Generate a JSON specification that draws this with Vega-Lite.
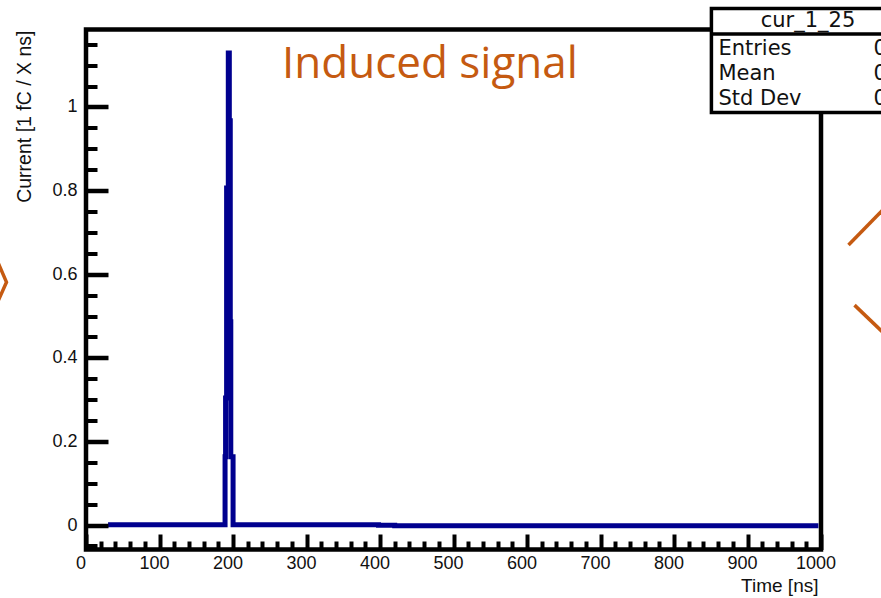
{
  "$schema": "https://vega.github.io/schema/vega-lite/v6.json",
  "width": 735,
  "height": 520,
  "autosize": {"type": "none"},
  "padding": {"left": 86, "top": 29.5, "right": 60, "bottom": 48.5},
  "background": "white",
  "config": {
    "view": {"stroke": "black", "strokeWidth": 4.5},
    "font": "Liberation Sans"
  },
  "datasets": {
    "curve": [
      {"i": 0, "t": 30, "c": 0.0005},
      {"i": 1, "t": 189.2, "c": 0.0005},
      {"i": 2, "t": 189.2, "c": 0.163},
      {"i": 3, "t": 189.9, "c": 0.163},
      {"i": 4, "t": 189.9, "c": 0.304},
      {"i": 5, "t": 191.3, "c": 0.304},
      {"i": 6, "t": 191.3, "c": 0.806},
      {"i": 7, "t": 193.6, "c": 0.806},
      {"i": 8, "t": 193.6, "c": 1.129},
      {"i": 9, "t": 195.0, "c": 1.129},
      {"i": 10, "t": 195.0, "c": 0.967},
      {"i": 11, "t": 196.3, "c": 0.967},
      {"i": 12, "t": 196.3, "c": 0.486},
      {"i": 13, "t": 197.0, "c": 0.486},
      {"i": 14, "t": 197.0, "c": 0.163},
      {"i": 15, "t": 200.1, "c": 0.163},
      {"i": 16, "t": 200.1, "c": 0.0005},
      {"i": 17, "t": 398, "c": 0.0005},
      {"i": 18, "t": 398, "c": -0.0005},
      {"i": 19, "t": 420, "c": -0.0005},
      {"i": 20, "t": 420, "c": -0.002},
      {"i": 21, "t": 996.5, "c": -0.002}
    ],
    "box": [{"x0": 850.9, "x1": 1094.6, "y0": 0.9868, "y1": 1.2356}],
    "divider": [{"x0": 850.9, "x1": 1094.6, "y": 1.1746}],
    "title": [{"x": 982.3, "y": 1.1914, "s": "cur_1_25"}],
    "stats": [
      {"x": 860.4, "y": 1.1244, "s": "Entries"},
      {"x": 860.4, "y": 1.0646, "s": "Mean"},
      {"x": 860.4, "y": 1.0048, "s": "Std Dev"},
      {"x": 1071.5, "y": 1.1244, "s": "0"},
      {"x": 1071.5, "y": 1.0646, "s": "0"},
      {"x": 1071.5, "y": 1.0048, "s": "0"}
    ],
    "label": [{"x": 266.7, "y": 1.0694, "s": "Induced signal"}],
    "deco": [
      {"g": "a", "i": 0, "x": -119.8, "y": 0.628},
      {"g": "a", "i": 1, "x": -108.2, "y": 0.581},
      {"g": "a", "i": 2, "x": -119.8, "y": 0.535},
      {"g": "b", "i": 0, "x": 1037.4, "y": 0.670},
      {"g": "b", "i": 1, "x": 1086.5, "y": 0.758},
      {"g": "c", "i": 0, "x": 1045.6, "y": 0.526},
      {"g": "c", "i": 1, "x": 1086.5, "y": 0.457}
    ]
  },
  "resolve": {"axis": {"x": "independent", "y": "independent"}},
  "layer": [
    {
      "data": {"name": "curve"},
      "mark": {"type": "line", "color": "#00008f", "strokeWidth": 5, "strokeJoin": "miter", "strokeCap": "butt", "clip": true},
      "encoding": {
        "x": {
          "field": "t", "type": "quantitative",
          "scale": {"domain": [0, 1000], "nice": false, "zero": false},
          "axis": {
            "orient": "bottom", "zindex": 1, "domain": false, "grid": false,
            "values": [0, 100, 200, 300, 400, 500, 600, 700, 800, 900, 1000],
            "format": "d", "labelFlush": false, "labelOverlap": false,
            "tickSize": -15.5, "tickWidth": 4, "tickColor": "black",
            "labelPadding": 34, "labelBaseline": "alphabetic", "labelOffset": -5.5,
            "labelFont": "Liberation Sans", "labelFontSize": 18, "labelColor": "#111111",
            "title": "Time [ns]", "titleFont": "Liberation Sans", "titleFontSize": 19,
            "titleFontWeight": "normal", "titleColor": "#111111",
            "titleX": 732, "titleY": 42.2, "titleAlign": "right", "titleBaseline": "alphabetic", "titleAngle": 0
          }
        },
        "y": {
          "field": "c", "type": "quantitative",
          "scale": {"domain": [-0.0586, 1.1854], "nice": false, "zero": false},
          "axis": {
            "orient": "left", "zindex": 1, "domain": false, "grid": false,
            "values": [0, 0.2, 0.4, 0.6, 0.8, 1],
            "labelExpr": "datum.value == 0 ? '0' : datum.value == 1 ? '1' : format(datum.value, '.1f')",
            "labelFlush": false, "labelOverlap": false,
            "tickSize": -22, "tickWidth": 4.5, "tickColor": "black",
            "labelPadding": 31, "labelBaseline": "middle",
            "labelFont": "Liberation Sans", "labelFontSize": 18, "labelColor": "#111111",
            "title": "Current [1 fC / X ns]", "titleFont": "Liberation Sans", "titleFontSize": 19.5,
            "titleFontWeight": "normal", "titleColor": "#111111",
            "titleX": -62, "titleY": 0.5, "titleAlign": "right", "titleBaseline": "middle", "titleAngle": 270
          }
        },
        "order": {"field": "i", "type": "quantitative"}
      }
    },
    {
      "data": {"name": "box"},
      "mark": {"type": "rect", "fill": "white", "stroke": "black", "strokeWidth": 3.5, "clip": false},
      "encoding": {
        "x": {
          "field": "x0", "type": "quantitative",
          "scale": {"domain": [0, 1000], "nice": false, "zero": false},
          "axis": {
            "orient": "bottom", "zindex": 1, "domain": false, "grid": false, "labels": false, "title": null,
            "values": [20, 40, 60, 80, 120, 140, 160, 180, 220, 240, 260, 280, 320, 340, 360, 380, 420, 440, 460, 480, 520, 540, 560, 580, 620, 640, 660, 680, 720, 740, 760, 780, 820, 840, 860, 880, 920, 940, 960, 980],
            "tickSize": -8.5, "tickWidth": 4, "tickColor": "black"
          }
        },
        "x2": {"field": "x1"},
        "y": {
          "field": "y0", "type": "quantitative",
          "scale": {"domain": [-0.0586, 1.1854], "nice": false, "zero": false},
          "axis": {
            "orient": "left", "zindex": 1, "domain": false, "grid": false, "labels": false, "title": null,
            "values": [-0.05, 0.05, 0.1, 0.15, 0.25, 0.3, 0.35, 0.45, 0.5, 0.55, 0.65, 0.7, 0.75, 0.85, 0.9, 0.95, 1.05, 1.1, 1.15],
            "tickSize": -11, "tickWidth": 4, "tickColor": "black"
          }
        },
        "y2": {"field": "y1"}
      }
    },
    {
      "data": {"name": "divider"},
      "mark": {"type": "rule", "stroke": "black", "strokeWidth": 3.5, "clip": false},
      "encoding": {
        "x": {"field": "x0", "type": "quantitative", "axis": null},
        "x2": {"field": "x1"},
        "y": {"field": "y", "type": "quantitative", "axis": null}
      }
    },
    {
      "data": {"name": "title"},
      "mark": {"type": "text", "font": "DejaVu Sans", "fontSize": 21, "align": "center", "baseline": "alphabetic", "color": "#111111", "clip": false},
      "encoding": {
        "x": {"field": "x", "type": "quantitative", "axis": null},
        "y": {"field": "y", "type": "quantitative", "axis": null},
        "text": {"field": "s"}
      }
    },
    {
      "data": {"name": "stats"},
      "mark": {"type": "text", "font": "DejaVu Sans", "fontSize": 21, "align": "left", "baseline": "alphabetic", "color": "#111111", "clip": false},
      "encoding": {
        "x": {"field": "x", "type": "quantitative", "axis": null},
        "y": {"field": "y", "type": "quantitative", "axis": null},
        "text": {"field": "s"}
      }
    },
    {
      "data": {"name": "label"},
      "mark": {"type": "text", "font": "Open Sans", "fontSize": 44, "align": "left", "baseline": "alphabetic", "color": "#c55a11", "clip": false},
      "encoding": {
        "x": {"field": "x", "type": "quantitative", "axis": null},
        "y": {"field": "y", "type": "quantitative", "axis": null},
        "text": {"field": "s"}
      }
    },
    {
      "data": {"name": "deco"},
      "mark": {"type": "line", "color": "#c55a11", "strokeWidth": 3.5, "strokeCap": "butt", "strokeJoin": "miter", "clip": false},
      "encoding": {
        "x": {"field": "x", "type": "quantitative", "axis": null},
        "y": {"field": "y", "type": "quantitative", "axis": null},
        "detail": {"field": "g"},
        "order": {"field": "i", "type": "quantitative"}
      }
    }
  ]
}
